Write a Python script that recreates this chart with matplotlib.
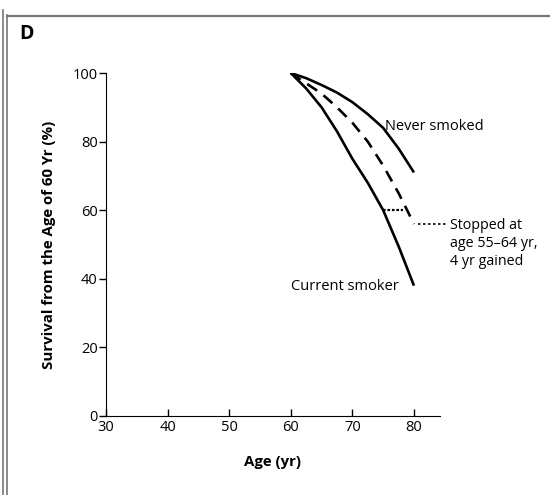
import matplotlib.pyplot as plt
from matplotlib.lines import Line2D

plt.rcParams['font.family'] = ['Open Sans', 'DejaVu Sans']

# survival curves (age in yr, survival in %)
ages = [60, 62.5, 65, 67.5, 70, 72.5, 75, 77.5, 80]
never_smoked = [100, 98.5, 96.5, 94.3, 91.5, 88, 84, 78, 71]
current_smoker = [100, 95.5, 90, 83, 75, 68, 60, 49.5, 38]
stopped = [100, 97, 94, 90, 85.5, 80, 73, 65, 56]

# gain marker and leader line
gain_x = [75, 78.2]
gain_y = [60, 60]
leader_x = [80.6, 85.6]
leader_y = [56, 56]

x_ticks = [30, 40, 50, 60, 70, 80]
y_ticks = [0, 20, 40, 60, 80, 100]

fig = plt.figure(figsize=(5.5, 4.95), dpi=100)
ax = fig.add_axes([0.1927, 0.1596, 0.607, 0.6929])

ax.plot(ages, never_smoked, color='black', lw=1.9, solid_capstyle='butt')
ax.plot(ages, current_smoker, color='black', lw=1.9, solid_capstyle='butt')
ax.plot(ages, stopped, color='black', lw=1.9, ls=(0, (4.5, 3)))
ax.plot(gain_x, gain_y, color='black', lw=1.6, ls=(0, (1.2, 0.8)))
ax.plot(leader_x, leader_y, color='black', lw=1.2, ls=(0, (1.5, 1.5)),
        clip_on=False)

ax.text(75.3, 84.3, 'Never smoked', fontsize=10.5, va='center', ha='left')
ax.text(60.1, 37.7, 'Current smoker', fontsize=10.5, va='center', ha='left')
ax.text(85.9, 50.4, 'Stopped at\nage 55\u201364 yr,\n4 yr gained', fontsize=10.3,
        va='center', ha='left', linespacing=1.28)

ax.set_xlim(30, 84.2)
ax.set_ylim(0, 100)
ax.set_xticks(x_ticks)
ax.set_yticks(y_ticks)
ax.spines['top'].set_visible(False)
ax.spines['right'].set_visible(False)
ax.tick_params(axis='x', direction='in', length=5, width=1, labelsize=10.5, pad=3)
ax.tick_params(axis='y', direction='out', length=5, width=1, labelsize=10.5, pad=1)
ax.set_xlabel('Age (yr)', fontsize=10.8, fontweight='bold', labelpad=14)
ax.set_ylabel('Survival from the Age of 60 Yr (%)', fontsize=10.8,
              fontweight='bold', labelpad=12)

fig.text(19 / 550, 1 - 34 / 495, 'D', fontsize=14, fontweight='bold',
         ha='left', va='center')

# panel frame
fig.add_artist(Line2D([3 / 550, 3 / 550], [0, 1 - 10 / 495], color='#777777', lw=1.2))
fig.add_artist(Line2D([7 / 550, 7 / 550], [0, 1 - 15 / 495], color='#777777', lw=1.2))
fig.add_artist(Line2D([7 / 550, 1], [1 - 15.5 / 495, 1 - 15.5 / 495], color='#777777', lw=1.6))

fig.savefig('out.png', dpi=100)
